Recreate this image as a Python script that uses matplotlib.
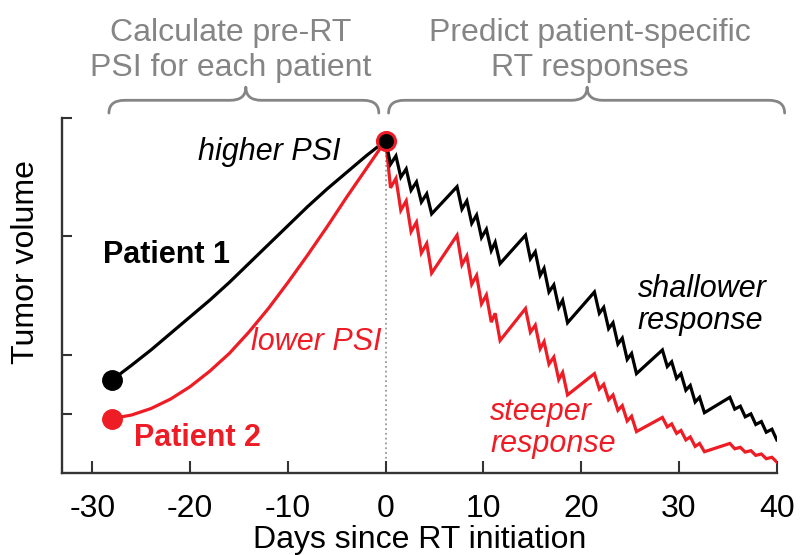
import matplotlib
matplotlib.use("Agg")
import matplotlib.pyplot as plt
import matplotlib.transforms as mtransforms
from matplotlib.path import Path
from matplotlib.patches import PathPatch

# ---------------------------------------------------------------------------
# Values (tumor volume in arbitrary units)
# ---------------------------------------------------------------------------
pre_days = [-28, -26, -24, -22, -20, -18, -16, -14, -12, -10, -8, -6, -4, -2, 0]
p1_pre = [0.785, 0.91, 1.04, 1.18, 1.32, 1.46, 1.61, 1.77, 1.93, 2.09, 2.25,
          2.40, 2.54, 2.68, 2.81]
p2_pre = [0.46, 0.49, 0.545, 0.625, 0.73, 0.86, 1.01, 1.19, 1.39, 1.61, 1.84,
          2.08, 2.33, 2.57, 2.81]

# RT fractions: 5 per week, weekends off
frac_days = [0.0, 1.05, 2.1, 3.15, 4.2,
             7.3, 8.3, 9.3, 10.3, 11.2,
             14.3, 15.3, 16.2, 17.2, 18.1,
             21.35, 22.3, 23.25, 24.2, 25.15,
             28.3, 29.25, 30.2, 31.15, 32.1,
             35.2, 36.27, 37.35, 38.42, 39.5]
# volume just before / just after each fraction
p1_before = [2.81, 2.68, 2.57, 2.46, 2.36,
             2.42, 2.30, 2.18, 2.06, 1.95,
             2.01, 1.87, 1.73, 1.59, 1.46,
             1.53, 1.40, 1.27, 1.14, 1.01,
             1.04, 0.94, 0.84, 0.74, 0.64,
             0.64, 0.565, 0.50, 0.435, 0.37]
p1_after = [2.61, 2.50, 2.39, 2.29, 2.19,
            2.23, 2.11, 1.99, 1.88, 1.77,
            1.81, 1.67, 1.53, 1.40, 1.27,
            1.35, 1.22, 1.09, 0.96, 0.84,
            0.90, 0.80, 0.70, 0.60, 0.51,
            0.54, 0.475, 0.41, 0.345, 0.28]
p2_before = [2.81, 2.49, 2.30, 2.12, 1.94,
             2.01, 1.835, 1.67, 1.505, 1.35,
             1.39, 1.25, 1.11, 0.98, 0.85,
             0.84, 0.75, 0.66, 0.57, 0.48,
             0.47, 0.415, 0.36, 0.305, 0.25,
             0.25, 0.217, 0.189, 0.161, 0.133]
p2_after = [2.41, 2.22, 2.04, 1.86, 1.69,
            1.76, 1.595, 1.43, 1.275, 1.12,
            1.19, 1.05, 0.92, 0.79, 0.66,
            0.71, 0.62, 0.53, 0.44, 0.35,
            0.39, 0.335, 0.28, 0.225, 0.18,
            0.205, 0.177, 0.149, 0.121, 0.093]

xticks = [-30, -20, -10, 0, 10, 20, 30, 40]
yticks = [0.5, 1, 2, 3]

RED = "#ee1c25"
GRAY = "#858585"
AXC = "#333333"
DROP = 0.5  # days a fraction's drop spans on the drawing

plt.rcParams.update({
    "font.family": ["Liberation Sans", "DejaVu Sans"],
    "axes.unicode_minus": False,
})


def treatment_curve(before, after):
    xs, ys = [], []
    for t, b, a in zip(frac_days, before, after):
        xs += [t, t + DROP]
        ys += [b, a]
    return xs, ys


def brace(ax, x0, x1, xm, rx, y0=1.014, y1=1.05, y2=1.087):
    tr = mtransforms.blended_transform_factory(ax.transData, ax.transAxes)
    verts = [(x0, y0), (x0, y1), (x0 + rx, y1),
             (xm - rx, y1), (xm, y1), (xm, y2),
             (xm, y1), (xm + rx, y1),
             (x1 - rx, y1), (x1, y1), (x1, y0)]
    codes = [Path.MOVETO, Path.CURVE3, Path.CURVE3,
             Path.LINETO, Path.CURVE3, Path.CURVE3,
             Path.CURVE3, Path.CURVE3,
             Path.LINETO, Path.CURVE3, Path.CURVE3]
    ax.add_patch(PathPatch(Path(verts, codes), transform=tr, fill=False,
                           edgecolor=GRAY, lw=2.0, clip_on=False,
                           capstyle="round", joinstyle="round"))


fig = plt.figure(figsize=(8, 5.55), dpi=100)
ax = fig.add_axes([0.0775, 0.1477, 0.8935, 0.6396])

ax.axvline(0, ymin=0, ymax=2.81 / 3.0, color="#999999", ls=":", lw=1.3,
           zorder=1)

x1, y1 = treatment_curve(p1_before, p1_after)
x2, y2 = treatment_curve(p2_before, p2_after)
ax.plot(pre_days + x2, p2_pre + y2, color=RED, lw=2.3, zorder=3,
        solid_joinstyle="miter")
ax.plot(pre_days + x1, p1_pre + y1, color="black", lw=2.3, zorder=4,
        solid_joinstyle="miter")

ax.plot(pre_days[0], p1_pre[0], "o", color="black", ms=14, zorder=5)
ax.plot(pre_days[0], p2_pre[0], "o", color=RED, ms=14, zorder=5)
ax.plot(pre_days[-1], p1_pre[-1], "o", mfc="black", mec=RED, mew=2.2, ms=13,
        zorder=6)

ax.set_xlim(-33.1, 40)
ax.set_ylim(0, 3.0)
ax.set_xticks(xticks)
ax.set_xticklabels([str(v) for v in xticks], fontsize=23)
ax.set_yticks(yticks)
ax.set_yticklabels([])
ax.tick_params(axis="x", direction="in", length=9, width=1.5, pad=15,
               colors=AXC, labelcolor="black")
ax.tick_params(axis="y", direction="in", length=7, width=1.5, colors=AXC)
for s in ("top", "right"):
    ax.spines[s].set_visible(False)
for s in ("left", "bottom"):
    ax.spines[s].set_linewidth(1.7)
    ax.spines[s].set_color(AXC)

ax.set_xlabel("Days since RT initiation", fontsize=23, labelpad=1)
ax.set_ylabel("Tumor volume", fontsize=23)
ax.yaxis.set_label_coords(-0.029, 0.594)

ax.text(-22.4, 1.84, "Patient 1", fontsize=22, fontweight="bold",
        ha="center", va="center")
ax.text(-19.2, 0.30, "Patient 2", fontsize=22, fontweight="bold",
        color=RED, ha="center", va="center")
ax.text(-11.9, 2.71, "higher PSI", fontsize=22, style="italic",
        ha="center", va="center")
ax.text(-7.1, 1.11, "lower PSI", fontsize=22, style="italic", color=RED,
        ha="center", va="center")
ax.text(25.8, 1.42, "shallower\nresponse", fontsize=22, style="italic",
        ha="left", va="center", linespacing=1.05)
ax.text(10.7, 0.38, "steeper\nresponse", fontsize=22, style="italic",
        color=RED, ha="left", va="center", linespacing=1.05)

brace(ax, -28.3, -0.7, -14.3, 1.6)
brace(ax, 0.3, 40.8, 20.6, 1.6)

tr = mtransforms.blended_transform_factory(ax.transData, ax.transAxes)
ax.text(-15.8, 1.19, "Calculate pre-RT\nPSI for each patient",
        transform=tr, fontsize=23, color=GRAY, ha="center", va="center",
        linespacing=1.25)
ax.text(20.9, 1.19, "Predict patient-specific\nRT responses",
        transform=tr, fontsize=23, color=GRAY, ha="center", va="center",
        linespacing=1.25)

fig.savefig("out.png", dpi=100)
